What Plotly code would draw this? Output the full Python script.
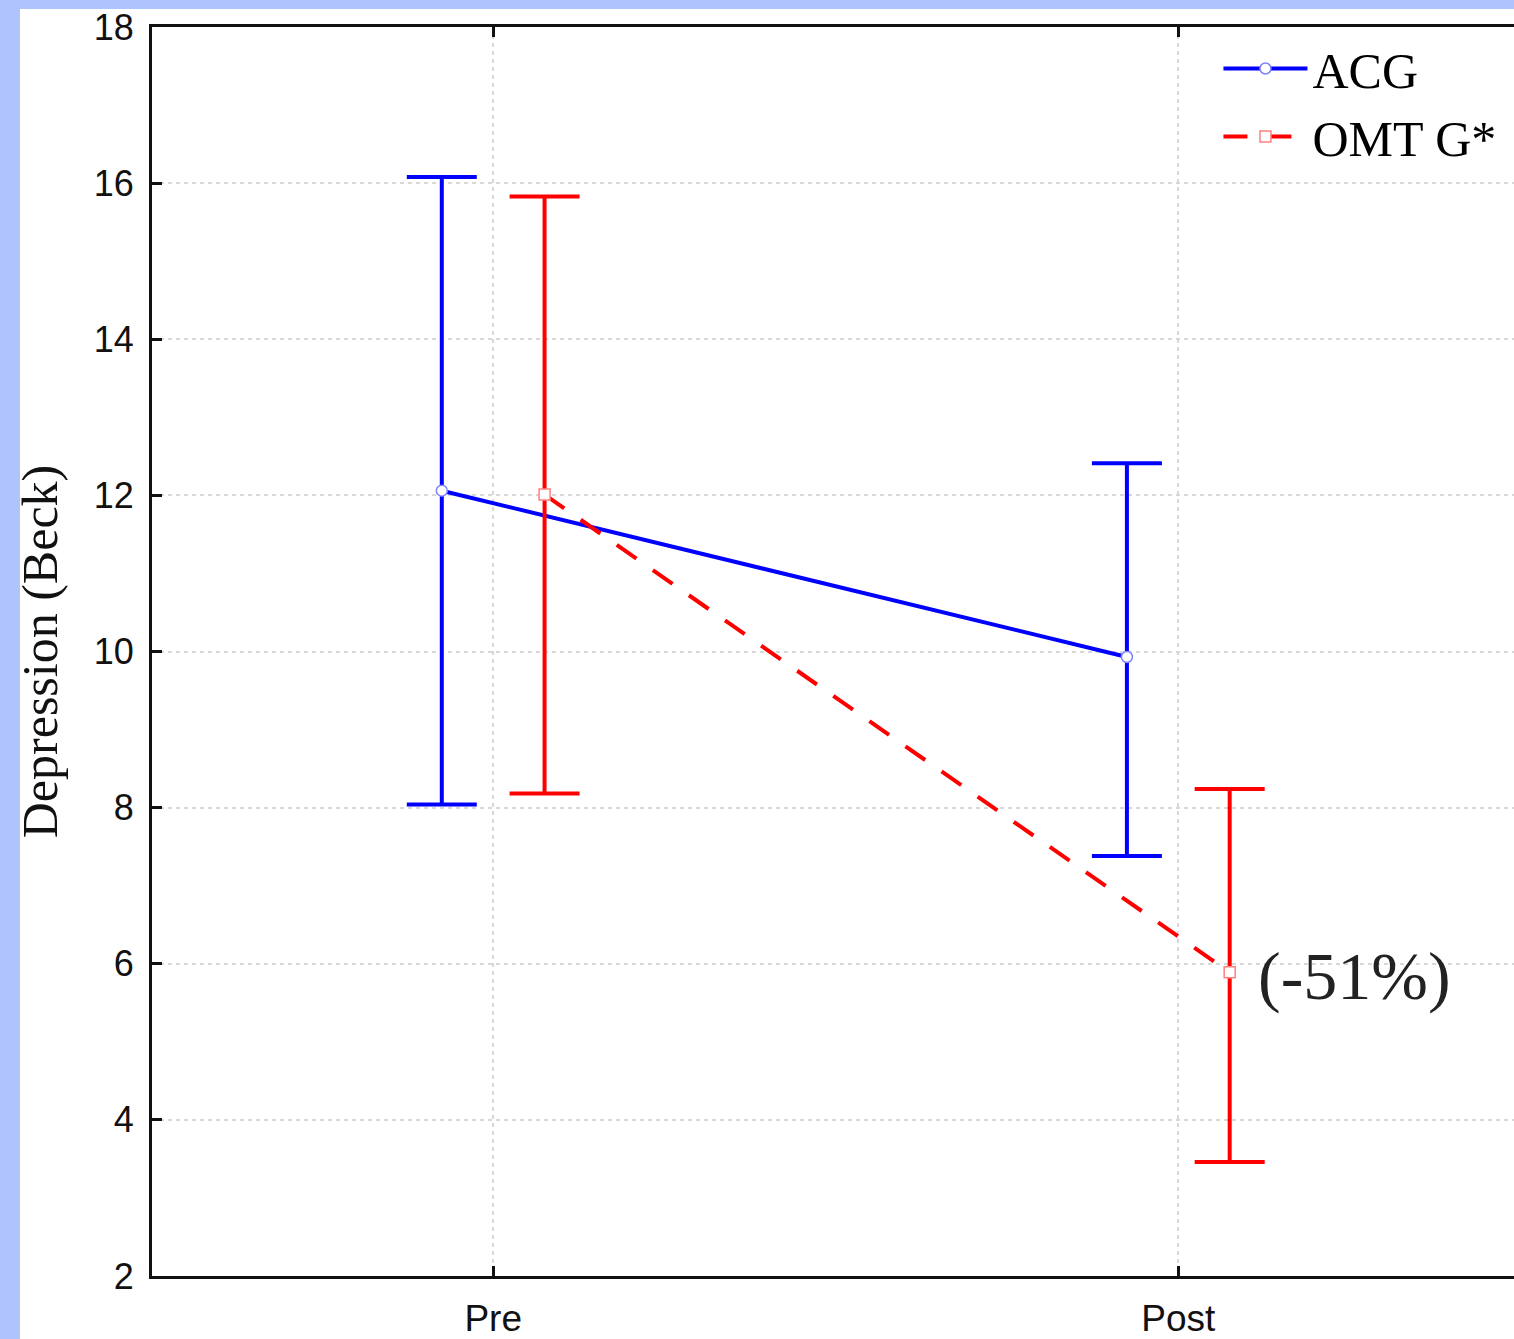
import plotly.graph_objects as go

categories = ["Pre", "Post"]
acg_mean = [12.06, 9.93]
acg_upper = [16.08, 12.41]
acg_lower = [8.04, 7.38]
omtg_mean = [12.01, 5.89]
omtg_upper = [15.83, 8.24]
omtg_lower = [8.18, 3.46]
y_ticks = [2, 4, 6, 8, 10, 12, 14, 16, 18]
annotation_text = "(-51%)"

BLUE = "#0000ff"
RED = "#ff0000"
BG = "#afc3fc"
serif = "Liberation Serif, Times New Roman, serif"
sans = "Liberation Sans, Arial, sans-serif"

idx = list(range(len(categories)))
off = 0.075
x_acg = [i - off for i in idx]
x_omtg = [i + off for i in idx]

fig = go.Figure()
fig.add_trace(go.Scatter(
    x=x_acg, y=acg_mean, name="ACG", mode="lines+markers",
    line=dict(color=BLUE, width=4),
    marker=dict(symbol="circle", size=11, color="white", line=dict(color="#8080ff", width=1.5)),
    error_y=dict(type="data", symmetric=False,
                 array=[u - m for u, m in zip(acg_upper, acg_mean)],
                 arrayminus=[m - l for m, l in zip(acg_mean, acg_lower)],
                 color=BLUE, thickness=4, width=35),
))
fig.add_trace(go.Scatter(
    x=x_omtg, y=omtg_mean, name="OMT G*", mode="lines+markers",
    line=dict(color=RED, width=4, dash="24px,20px"),
    marker=dict(symbol="square", size=11, color="white", line=dict(color="#ff8080", width=1.5)),
    error_y=dict(type="data", symmetric=False,
                 array=[u - m for u, m in zip(omtg_upper, omtg_mean)],
                 arrayminus=[m - l for m, l in zip(omtg_mean, omtg_lower)],
                 color=RED, thickness=4, width=35),
))

fig.add_annotation(
    x=x_omtg[1], y=omtg_mean[1], xref="x", yref="y",
    text=annotation_text, showarrow=False, xanchor="left", yanchor="middle",
    xshift=26, yshift=-4,
    font=dict(family=serif, size=68, color="#222222"),
)

# white panel over the light-blue page
fig.add_shape(type="rect", xref="paper", yref="paper",
              x0=-0.0969, x1=1.02, y0=-0.06, y1=1.0145,
              fillcolor="white", line=dict(width=0), layer="below")

fig.update_layout(
    width=1514, height=1339,
    margin=dict(l=152, r=0, t=27, b=63),
    paper_bgcolor=BG, plot_bgcolor="white",
    showlegend=True,
    legend=dict(x=0.783, y=0.998, xanchor="left", yanchor="top",
                font=dict(family=serif, size=50, color="#000000"),
                bgcolor="rgba(0,0,0,0)", itemwidth=84, tracegroupgap=0),
    font=dict(family=sans, color="#111111"),
    yaxis2=dict(overlaying="y", side="right", anchor="x", range=[2, 18], tickvals=y_ticks,
                showticklabels=False, showgrid=False, showline=False, zeroline=False,
                ticks="inside", ticklen=10, tickwidth=3, tickcolor="#111111"),
)
fig.update_xaxes(
    range=[-0.498, 1.49], tickvals=idx, ticktext=categories,
    showline=True, linecolor="#111111", linewidth=3, mirror="ticks",
    ticks="inside", ticklen=10, tickwidth=3, tickcolor="#111111",
    showgrid=True, gridcolor="#d8d8d8", gridwidth=1.5, griddash="4px,4px",
    tickfont=dict(family=sans, size=37, color="#111111"), zeroline=False,
    ticklabelstandoff=8,
)
fig.update_layout(yaxis=dict(
    range=[2, 18], tickvals=y_ticks,
    showline=True, linecolor="#111111", linewidth=3, mirror=False,
    ticks="inside", ticklen=10, tickwidth=3, tickcolor="#111111",
    showgrid=True, gridcolor="#d8d8d8", gridwidth=1.5, griddash="4px,4px",
    tickfont=dict(family=sans, size=36, color="#111111"), zeroline=False,
    ticklabelstandoff=8,
    title=dict(text="Depression (Beck)", font=dict(family=serif, size=50, color="#111111"), standoff=21),
))

fig.write_html("out.html", config={"displayModeBar": False},
               post_script="document.body.style.margin='0';document.body.style.background='%s';" % BG)
